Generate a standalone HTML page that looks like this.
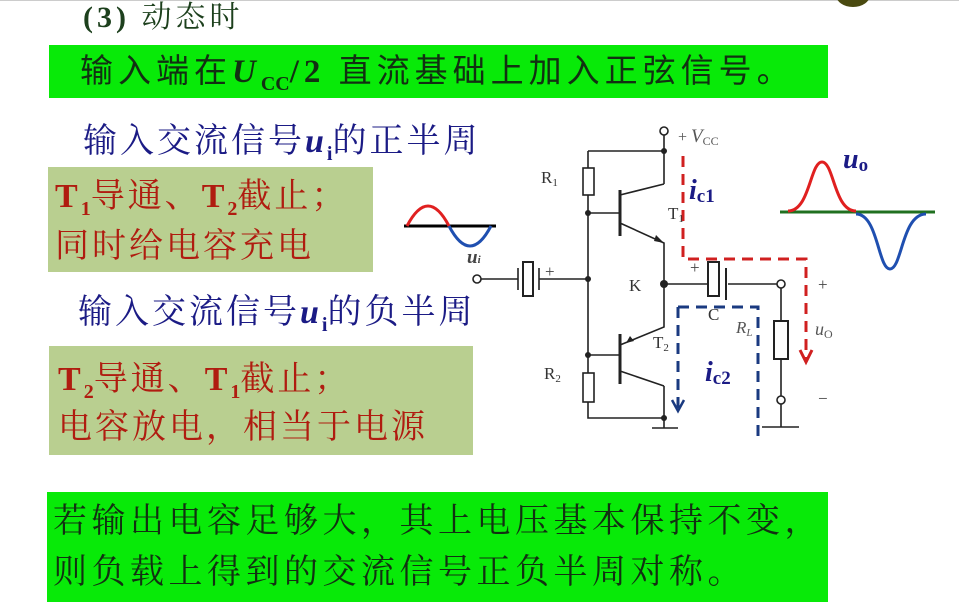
<!DOCTYPE html>
<html><head><meta charset="utf-8"><style>
body{margin:0;width:959px;height:616px;background:#fff;position:relative;overflow:hidden}
.t{position:absolute;white-space:nowrap;font-family:"Liberation Serif","Noto Serif CJK SC",serif;height:40px;line-height:40px;letter-spacing:3px}
.b{position:absolute}
.s{font-size:20px;vertical-align:-8px;font-weight:bold;letter-spacing:0}
i{font-family:"Liberation Serif",serif;font-weight:bold}
</style></head><body>
<div style="position:absolute;left:0;top:0;width:959px;height:1px;background:#ccc"></div>
<div style="position:absolute;left:836px;top:-17px;width:34px;height:24px;border-radius:50%;background:#4a4a10"></div>
<div class="t" style="left:83px;top:-2px;font-size:30px;color:#1d401d;letter-spacing:4px"><b>(3)</b> 动态时</div>
<div class="b" style="left:49px;top:45px;width:779px;height:53px;background:#08ea08"></div>
<div class="t" style="left:80px;top:52px;font-size:33px;color:#123012;letter-spacing:5px;font-family:'Liberation Serif','Noto Sans CJK SC',sans-serif">输入端在<i>U</i><span class="s">CC</span><b>/2</b> 直流基础上加入正弦信号。</div>
<div class="t" style="left:83px;top:122px;font-size:34px;color:#1b1b85">输入交流信号<i>u</i><span class="s">i</span>的正半周</div>
<div class="b" style="left:48px;top:167px;width:325px;height:105px;background:#b9cf90"></div>
<div class="t" style="left:55px;top:177px;font-size:34px;color:#b01c10"><b>T</b><span class="s">1</span>导通、<b>T</b><span class="s">2</span>截止；</div>
<div class="t" style="left:55px;top:227px;font-size:34px;color:#b01c10">同时给电容充电</div>
<div class="t" style="left:78px;top:293px;font-size:34px;color:#1b1b85">输入交流信号<i>u</i><span class="s">i</span>的负半周</div>
<div class="b" style="left:49px;top:346px;width:424px;height:109px;background:#b9cf90"></div>
<div class="t" style="left:58px;top:360px;font-size:34px;color:#b01c10"><b>T</b><span class="s">2</span>导通、<b>T</b><span class="s">1</span>截止；</div>
<div class="t" style="left:58px;top:408px;font-size:34px;color:#b01c10">电容放电，相当于电源</div>
<div class="b" style="left:47px;top:492px;width:781px;height:110px;background:#08ea08"></div>
<div class="t" style="left:53px;top:502px;font-size:34px;color:#123012;letter-spacing:4.5px">若输出电容足够大，其上电压基本保持不变，</div>
<div class="t" style="left:53px;top:553px;font-size:34px;color:#123012;letter-spacing:4.5px">则负载上得到的交流信号正负半周对称。</div>
<svg width="959" height="616" style="position:absolute;left:0;top:0" font-family="Liberation Serif">
<g stroke="#222" stroke-width="1.6" fill="none">
<circle cx="664" cy="131" r="4" fill="#fff"/>
<path d="M664 135V184M588 151H664M588 151V168M588 195V373M588 402V418H664V386M620 195L664 184M620 223L664 243V327L620 345M620 371L664 386M588 213H620M588 355H620M664 418V428M652 428H678"/>
<rect x="583" y="168" width="11" height="27"/><rect x="583" y="373" width="11" height="29"/>
<path d="M620 190V236M620 334V384" stroke-width="3"/>
<path d="M481 279H518M539 279H588M664 284H708M728 284H777M781 288V321M781 359V396M781 404V427M762 427H799"/>
<path d="M518 268V290M539 268V290"/><rect x="523" y="262" width="10" height="34" stroke-width="2"/>
<path d="M726 268V300" stroke-width="2"/><rect x="708" y="262" width="11" height="34" stroke-width="2"/>
<circle cx="477" cy="279" r="4" fill="#fff"/><circle cx="781" cy="284" r="4" fill="#fff"/><circle cx="781" cy="400" r="4" fill="#fff"/>
<rect x="774" y="321" width="14" height="38" stroke-width="2"/>
</g>
<path d="M664 243l-8 -8l-2 6z M626 343l8 -2l-4 -5z" fill="#222"/>
<g fill="#222"><circle cx="664" cy="151" r="3"/><circle cx="588" cy="213" r="3"/><circle cx="588" cy="279" r="3"/><circle cx="664" cy="284" r="4"/><circle cx="588" cy="355" r="3"/><circle cx="664" cy="418" r="3"/></g>
<path d="M683 156V259H806V360" stroke="#d02020" stroke-width="3" stroke-dasharray="11,7" fill="none"/>
<path d="M800 350L806 362L812 350" stroke="#d02020" stroke-width="3" fill="none"/>
<path d="M678 307V410M678 307H758V443" stroke="#1a3a80" stroke-width="3" stroke-dasharray="11,7" fill="none"/>
<path d="M672 400L678 411L684 400" stroke="#1a3a80" stroke-width="2.5" fill="none"/>
<path d="M404 226H496" stroke="#000" stroke-width="3"/>
<path d="M407 226Q428 186 449 226" stroke="#e02020" stroke-width="3" fill="none"/>
<path d="M449 226Q470 266 491 226" stroke="#1f4fb0" stroke-width="3" fill="none"/>
<path d="M780 212H935" stroke="#207020" stroke-width="3"/>
<path d="M788 211C810 211 810 162 822 162C834 162 834 211 856 211" stroke="#e02020" stroke-width="3" fill="none"/>
<path d="M856 214C878 214 878 269 890 269C902 269 902 214 926 214" stroke="#1f4fb0" stroke-width="3" fill="none"/>
<g fill="#333" font-size="17">
<text x="541" y="183">R<tspan font-size="11" dy="3">1</tspan></text>
<text x="544" y="379">R<tspan font-size="11" dy="3">2</tspan></text>
<text x="668" y="219">T<tspan font-size="11" dy="3">1</tspan></text>
<text x="653" y="348">T<tspan font-size="11" dy="3">2</tspan></text>
<text x="629" y="291">K</text>
<text x="708" y="320">C</text>
<text x="736" y="333" font-style="italic" fill="#555">R<tspan font-size="11" dy="3">L</tspan></text>
<text x="545" y="277" fill="#444">+</text><text x="690" y="273" fill="#444">+</text>
<text x="818" y="290" fill="#444">+</text><text x="818" y="404" fill="#444">−</text>
<text x="678" y="142" fill="#555" font-size="16">+ <tspan font-style="italic" font-size="19">V</tspan><tspan font-size="12" dy="3">CC</tspan></text>
<text x="815" y="335" font-style="italic" fill="#555" font-size="18">u<tspan font-size="12" font-style="normal" dy="3">O</tspan></text>
<text x="467" y="263" font-style="italic" fill="#444" font-size="19" font-weight="bold">u<tspan font-size="11">i</tspan></text>
</g>
<text x="689" y="199" fill="#1b1b85" font-weight="bold" font-style="italic" font-size="28">i<tspan font-size="19" font-style="normal" dy="3">c1</tspan></text>
<text x="705" y="381" fill="#1b1b85" font-weight="bold" font-style="italic" font-size="28">i<tspan font-size="19" font-style="normal" dy="3">c2</tspan></text>
<text x="843" y="168" fill="#1b1b85" font-weight="bold" font-style="italic" font-size="28">u<tspan font-size="19" font-style="normal" dy="3">o</tspan></text>
</svg>
</body></html>
